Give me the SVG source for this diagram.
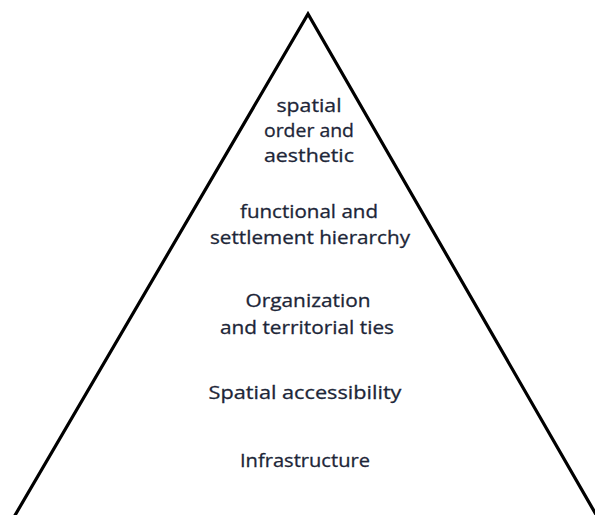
<svg xmlns="http://www.w3.org/2000/svg" width="595" height="515" viewBox="0 0 595 515">
<style>
.lbl{font-family:"Open Sans","Liberation Sans",sans-serif;font-size:19px;fill:#1d2638;stroke:#1d2638;stroke-width:0.3;text-anchor:middle}
.edge{fill:none;stroke:#000;stroke-width:3.2;stroke-linejoin:miter}
</style>
<rect width="595" height="515" fill="#fff"/>
<g id="connectors">
<polyline class="edge" points="14,517 308,14 598,518"/>
</g>
<g id="level5">
<text class="lbl" x="309" y="112" textLength="65" lengthAdjust="spacingAndGlyphs">spatial</text>
<text class="lbl" x="309" y="137" textLength="90" lengthAdjust="spacingAndGlyphs">order and</text>
<text class="lbl" x="309" y="162" textLength="90" lengthAdjust="spacingAndGlyphs">aesthetic</text>
</g>
<g id="level4">
<text class="lbl" x="309" y="218" textLength="138" lengthAdjust="spacingAndGlyphs">functional and</text>
<text class="lbl" x="310" y="244" textLength="200" lengthAdjust="spacingAndGlyphs">settlement hierarchy</text>
</g>
<g id="level3">
<text class="lbl" x="308" y="307" textLength="125" lengthAdjust="spacingAndGlyphs">Organization</text>
<text class="lbl" x="307" y="334" textLength="174" lengthAdjust="spacingAndGlyphs">and territorial ties</text>
</g>
<g id="level2">
<text class="lbl" x="305" y="399" textLength="193" lengthAdjust="spacingAndGlyphs">Spatial accessibility</text>
</g>
<g id="level1">
<text class="lbl" x="305" y="467" textLength="130" lengthAdjust="spacingAndGlyphs">Infrastructure</text>
</g>
</svg>
